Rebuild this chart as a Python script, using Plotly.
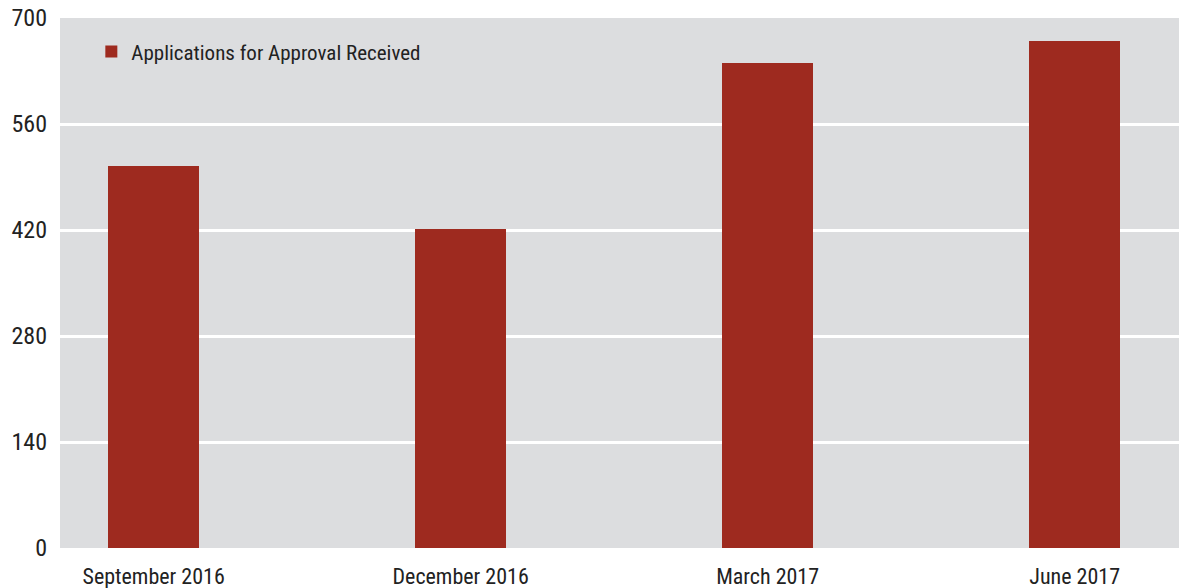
import plotly.graph_objects as go

categories = ["September 2016", "December 2016", "March 2017", "June 2017"]
values = [505, 421, 641, 670]
series_name = "Applications for Approval Received"
y_ticks = [0, 140, 280, 420, 560, 700]

FONT = "Roboto Condensed, Liberation Sans Narrow, Liberation Sans, sans-serif"

fig = go.Figure()
fig.add_trace(go.Bar(
    x=categories, y=values, name=series_name,
    marker=dict(color="#9E2A1F", line=dict(width=0)),
    width=0.296, showlegend=True,
))

fig.update_layout(
    width=1179, height=588,
    margin=dict(l=60, r=0, t=18, b=40, autoexpand=False),
    paper_bgcolor="white",
    plot_bgcolor="#DCDDDF",
    font=dict(family=FONT, size=21, color="#222222"),
    showlegend=True,
    legend=dict(x=0.028, y=0.975, xanchor="left", yanchor="top",
                bgcolor="rgba(0,0,0,0)", font=dict(size=21, family=FONT),
                itemwidth=30),
    bargap=0,
)
fig.update_xaxes(
    type="category", range=[-0.305, 3.34], showgrid=False, automargin=False,
    ticks="", tickfont=dict(size=22, family=FONT), ticklabelstandoff=13,
    showline=False, zeroline=False,
)
fig.update_yaxes(
    range=[0, 700], tickvals=y_ticks, ticktext=[str(v) for v in y_ticks],
    showgrid=True, gridcolor="white", gridwidth=2.5, automargin=False,
    zeroline=False, showline=False, ticks="",
    tickfont=dict(size=24, family=FONT), ticklabelstandoff=12,
)

fig.write_html(
    "out.html",
    config={"displayModeBar": False},
    post_script="document.body.style.margin='0';document.body.style.overflow='hidden';",
)
